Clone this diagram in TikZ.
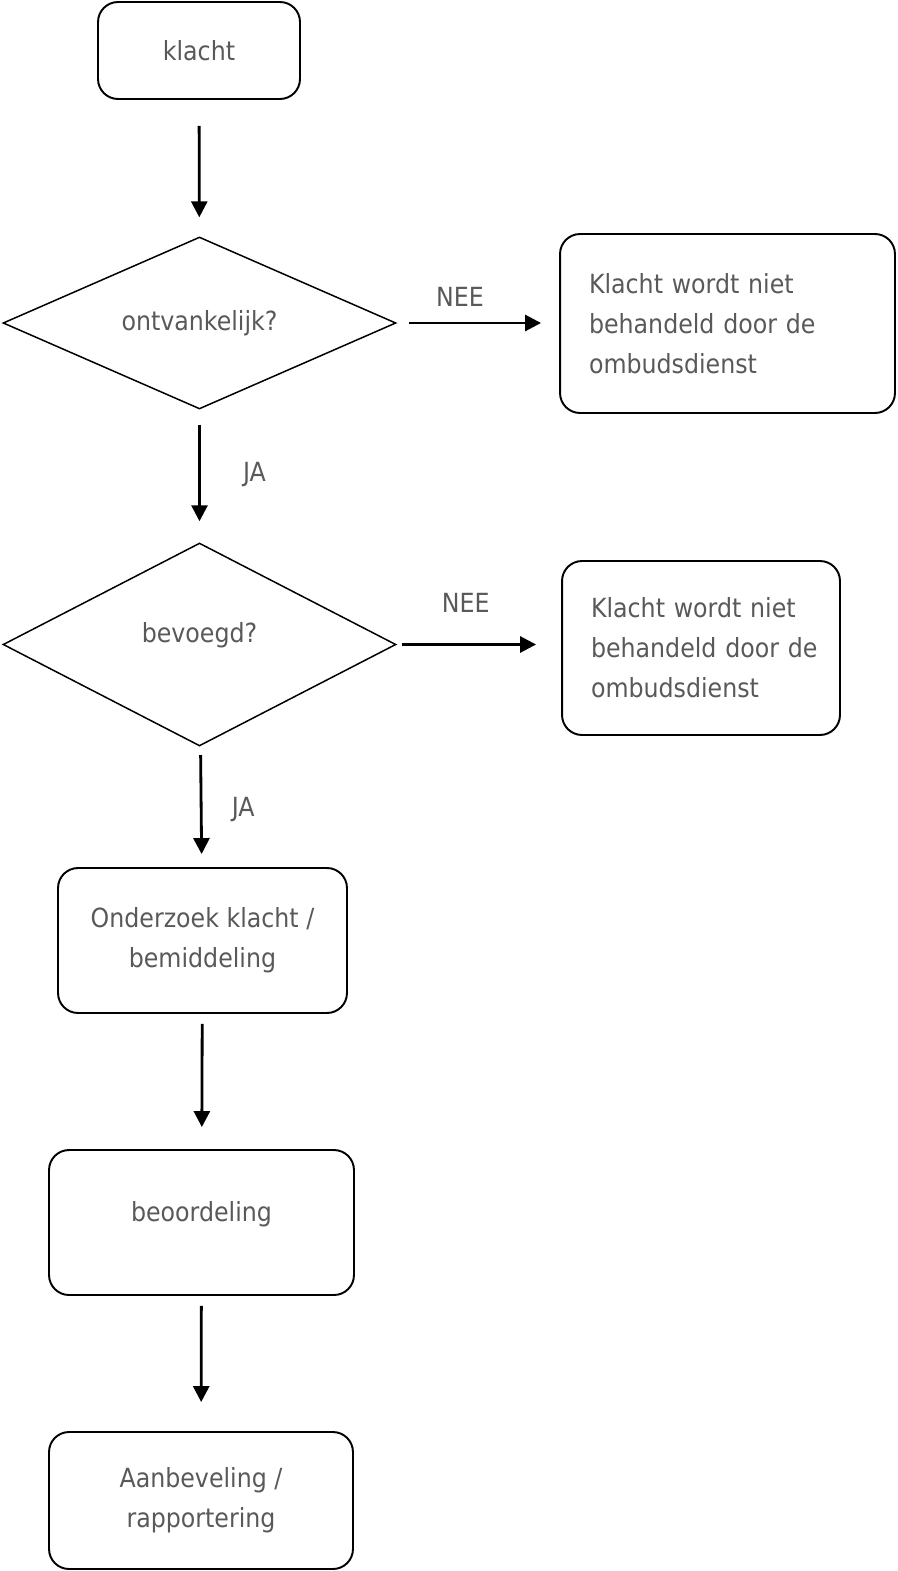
\documentclass[tikz,border=0pt]{standalone}
\usepackage{fontspec}
\setmainfont{DejaVu Sans Condensed}
\usepackage{tikz}
\usetikzlibrary{shapes.geometric,arrows.meta}
\definecolor{txtgray}{HTML}{595959}
\newcommand{\flowfont}{\fontsize{15}{22.76}\selectfont}

\begin{document}
\begin{tikzpicture}[x=0.02cm,y=-0.02cm,
		box/.style={draw,rounded corners=0.4cm,line width=1.1pt,text=txtgray,font=\flowfont,align=center,inner sep=0pt},
		sidebox/.style={box,align=left,inner xsep=0.58cm},
		ruit/.style={draw,diamond,aspect=2.5,line width=0.85pt,text=txtgray,font=\flowfont,inner sep=0pt},
		arr/.style={line width=1.6pt,-{Triangle[length=0.32cm,width=0.32cm]}},
		lbl/.style={text=txtgray,font=\flowfont}]
			\useasboundingbox (0,0) rectangle (897,1571);
			\node[box,minimum width=4.04cm,minimum height=1.94cm] (klacht) at (199,50.5) {klacht};
			\node[ruit,minimum width=7.86cm,minimum height=3.44cm] (ontv) at (199.5,323) {ontvankelijk?};
			\node[sidebox,text width=5.54cm,minimum height=3.58cm] (nee1) at (727.5,323.5) {Klacht wordt niet\\behandeld~door~de\\ombudsdienst};
			\node[ruit,minimum width=7.86cm,minimum height=4.06cm,text depth=0.5cm] (bev) at (199.5,644.5) {bevoegd?};
			\node[sidebox,text width=4.4cm,minimum height=3.48cm] (nee2) at (701,648) {Klacht wordt niet\\behandeld~door~de\\ombudsdienst};
			\node[box,minimum width=5.78cm,minimum height=2.9cm] (onderzoek) at (202.5,940.5) {Onderzoek klacht /\\bemiddeling};
			\node[box,minimum width=6.1cm,minimum height=2.9cm,text depth=0.45cm] (beoord) at (201.5,1222.5) {beoordeling};
			\node[box,minimum width=6.08cm,minimum height=2.74cm] (aanbev) at (201,1500.5) {Aanbeveling /\\rapportering};

			\draw[arr,shorten <=0.52cm,shorten >=0.38cm] (klacht) -- (ontv);
			\draw[arr,shorten <=0.24cm,shorten >=0.36cm] (ontv) -- node[lbl,pos=0.39,yshift=0.52cm]{NEE} (ontv -| nee1.west);
			\draw[arr,shorten <=0.3cm,shorten >=0.42cm] (ontv) -- node[lbl,pos=0.49,xshift=1.1cm]{JA} (bev);
			\draw[arr,shorten <=0.1cm,shorten >=0.5cm] (bev) -- node[lbl,pos=0.42,yshift=0.84cm]{NEE} (bev -| nee2.west);
			\draw[arr,shorten <=0.18cm,shorten >=0.26cm] (bev) -- node[lbl,pos=0.52,xshift=0.84cm]{JA} (onderzoek);
			\draw[arr,shorten <=0.2cm,shorten >=0.44cm] (onderzoek) -- (beoord);
			\draw[arr,shorten <=0.2cm,shorten >=0.58cm] (beoord) -- (aanbev);
		\end{tikzpicture}
\end{document}
